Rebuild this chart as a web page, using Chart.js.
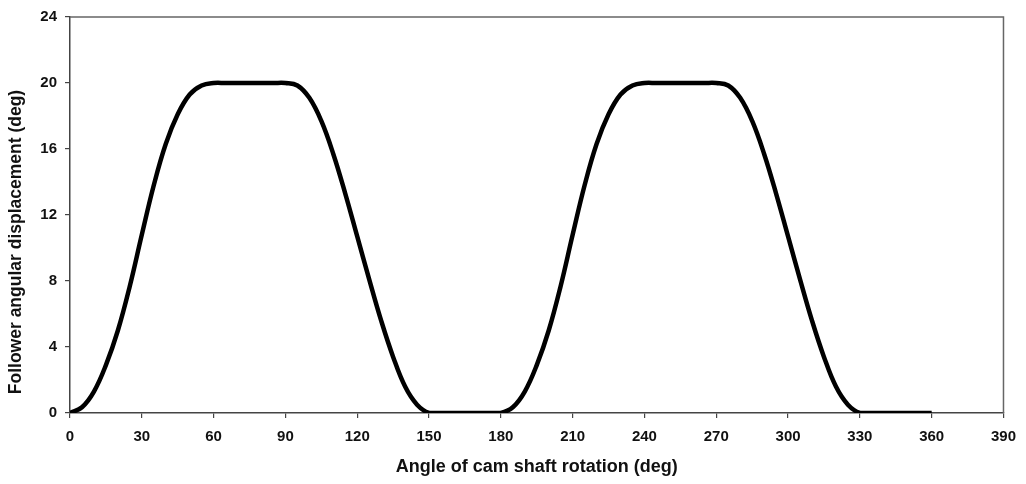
<!DOCTYPE html>
<html>
<head>
<meta charset="utf-8">
<script src="https://cdn.jsdelivr.net/npm/chart.js"></script>
<style>
  html, body { margin: 0; padding: 0; background: #ffffff; }
  #wrap { width: 1026px; height: 484px; position: relative; }
</style>
</head>
<body>
<div id="wrap"><canvas id="c" width="1026" height="484"></canvas></div>
<script>
// Cam shaft angle (deg)
const angles = [
  0, 5, 10, 15, 20, 25, 30, 35, 40, 45, 50, 55,
  60, 65, 70, 75, 80, 85, 90, 95, 100, 105, 110, 115,
  120, 125, 130, 135, 140, 145, 150, 155, 160, 165, 170, 175,
  180, 185, 190, 195, 200, 205, 210, 215, 220, 225, 230, 235,
  240, 245, 250, 255, 260, 265, 270, 275, 280, 285, 290, 295,
  300, 305, 310, 315, 320, 325, 330, 335, 340, 345, 350, 355, 360
];
// Follower angular displacement (deg)
const displacement = [
  0, 0.35, 1.3, 2.9, 5.0, 7.7, 10.8, 13.8, 16.3, 18.1, 19.3, 19.85,
  20, 20, 20, 20, 20, 20, 20, 19.85, 19.1, 17.7, 15.7, 13.3,
  10.7, 8.1, 5.6, 3.4, 1.6, 0.5, 0, 0, 0, 0, 0, 0,
  0, 0.35, 1.3, 2.9, 5.0, 7.7, 10.8, 13.8, 16.3, 18.1, 19.3, 19.85,
  20, 20, 20, 20, 20, 20, 20, 19.85, 19.1, 17.7, 15.7, 13.3,
  10.7, 8.1, 5.6, 3.4, 1.6, 0.5, 0, 0, 0, 0, 0, 0, 0
];
const xTitle = "Angle of cam shaft rotation (deg)";
const yTitle = "Follower angular displacement (deg)";

const points = angles.map((a, i) => ({ x: a, y: displacement[i] }));

const frame = {
  id: 'frame',
  afterDraw(chart) {
    const { ctx, chartArea: a } = chart;
    ctx.save();
    ctx.strokeStyle = '#666';
    ctx.lineWidth = 1.5;
    ctx.beginPath();
    ctx.moveTo(a.left, a.top);
    ctx.lineTo(a.right, a.top);
    ctx.lineTo(a.right, a.bottom);
    ctx.stroke();
    ctx.restore();
  }
};

const tickFont = { family: 'Liberation Sans, Arial', size: 15, weight: 'bold' };
const xTitleFont = { family: 'Liberation Sans, Arial', size: 18, weight: 'bold' };
const yTitleFont = { family: 'Liberation Sans, Arial', size: 17.5, weight: 'bold', lineHeight: 1.2 };
// left title box width = 17.5*1.2 + 6 + 3 = 30
const leftTitleWidth = 17.5 * 1.2 + 6 + 3;

new Chart(document.getElementById('c'), {
  type: 'scatter',
  data: {
    datasets: [{
      data: points,
      showLine: true,
      borderColor: '#000',
      borderWidth: 4.5,
      pointRadius: 0,
      tension: 0.4,
      fill: false
    }]
  },
  options: {
    responsive: false,
    animation: false,
    devicePixelRatio: 1,
    layout: { padding: { left: 0, right: 18, top: 0, bottom: 0 } },
    plugins: {
      legend: { display: false },
      tooltip: { enabled: false },
      subtitle: { display: true, position: 'top', text: '', padding: 0,
        font: { size: 16, lineHeight: 1 } },
      title: { display: true, position: 'left', fullSize: true, text: yTitle,
        color: '#111', padding: { top: 6, bottom: 3 }, font: yTitleFont }
    },
    scales: {
      x: {
        type: 'linear',
        min: 0, max: 390,
        afterFit(s) { s.height = 71; },
        ticks: { stepSize: 30, color: '#111', padding: 10, font: tickFont },
        grid: { display: true, drawOnChartArea: false, tickLength: 5, color: '#444', lineWidth: 1.2 },
        border: { display: true, color: '#444', width: 1.5 },
        title: { display: true, text: xTitle, color: '#111', padding: { top: 0, bottom: 6 }, font: xTitleFont }
      },
      y: {
        min: 0, max: 24,
        afterFit(s) { s.width = 70 - leftTitleWidth; },
        ticks: { stepSize: 4, color: '#111', padding: 8, font: tickFont },
        grid: { display: true, drawOnChartArea: false, tickLength: 5, color: '#444', lineWidth: 1.2 },
        border: { display: true, color: '#444', width: 1.5 }
      }
    }
  },
  plugins: [frame]
});
</script>
</body>
</html>
